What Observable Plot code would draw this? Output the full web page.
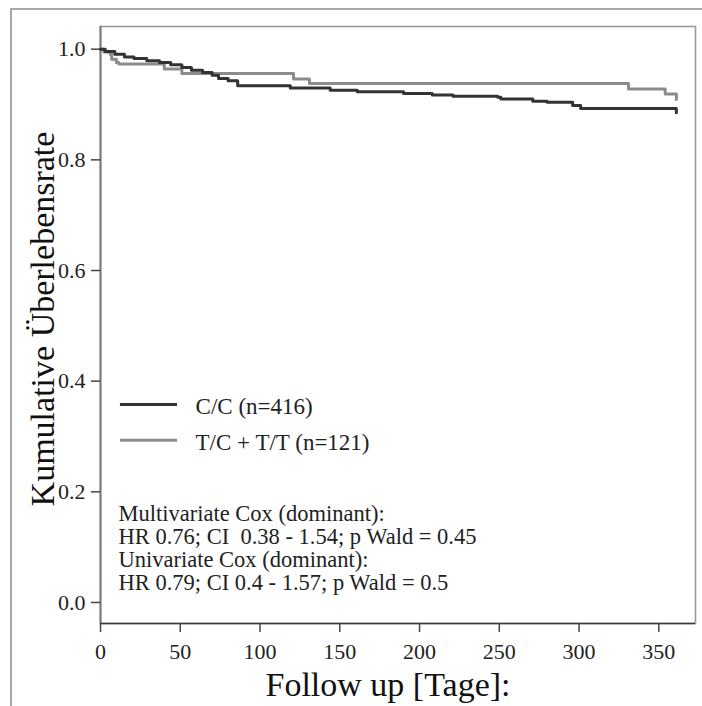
<!DOCTYPE html>
<html>
<head>
<meta charset="utf-8">
<script src="https://cdn.jsdelivr.net/npm/d3@7"></script>
<script src="https://cdn.jsdelivr.net/npm/@observablehq/plot@0.6"></script>
<style>
  html, body { margin: 0; padding: 0; background: #fff; }
  #wrap { position: relative; width: 702px; height: 706px; overflow: hidden; }
  #outer { position: absolute; left: 10px; top: 8px; width: 800px; height: 800px;
           border-left: 2px solid #a8a8a8; border-top: 2px solid #a8a8a8; pointer-events: none; }
  #chart { position: absolute; left: 0; top: 0; }
</style>
</head>
<body>
<div id="wrap"><div id="chart"></div><div id="outer"></div></div>
<script>
// ---- data ----
const groups = ["C/C (n=416)", "T/C + T/T (n=121)"];

const timeCC = [0, 3, 9, 15, 21, 29, 37, 44, 51, 57, 64, 70, 74, 80, 86, 119, 144, 161, 190, 208, 221, 249, 251, 271, 280, 296, 301, 361];
const survCC = [1.000, 0.996, 0.991, 0.986, 0.983, 0.979, 0.976, 0.972, 0.967, 0.962, 0.958, 0.953, 0.947, 0.943, 0.934, 0.930, 0.926, 0.923, 0.920, 0.917, 0.915, 0.913, 0.910, 0.906, 0.904, 0.898, 0.893, 0.885];

const timeTC = [0, 2, 6, 7, 10, 11.5, 40, 51, 121, 131, 331, 354, 361];
const survTC = [1.000, 0.995, 0.991, 0.982, 0.976, 0.973, 0.964, 0.956, 0.946, 0.938, 0.928, 0.919, 0.909];

const xTicks = [0, 50, 100, 150, 200, 250, 300, 350];
const yTicks = [0.0, 0.2, 0.4, 0.6, 0.8, 1.0];

const xTitle = "Follow up [Tage]:";
const yTitle = "Kumulative Überlebensrate";

const statsLines = [
  "Multivariate Cox (dominant):",
  "HR 0.76; CI\u00a0 0.38 - 1.54; p Wald = 0.45",
  "Univariate Cox (dominant):",
  "HR 0.79; CI 0.4 - 1.57; p Wald = 0.5"
];

// ---- layout / style options ----
const xDomain = [0, 373];
const yDomain = [-0.038, 1.041];
const colors = ["#333333", "#8c8c8c"];
const legendX = [12.5, 48.3];     // swatch extent (data units)
const legendTextX = 59.6;
const legendY = [0.358, 0.293];
const statsX = 11.3;
const statsY = [0.160, 0.1187, 0.0771, 0.0355];

const ccData = timeCC.map((t, i) => ({t, s: survCC[i]}));
const tcData = timeTC.map((t, i) => ({t, s: survTC[i]}));
const legendData = groups.map((g, i) => ({g, y: legendY[i], c: colors[i]}));
const statsData = statsLines.map((l, i) => ({l, y: statsY[i]}));

const font = "'Liberation Serif', 'Times New Roman', serif";

const chart = Plot.plot({
  width: 702,
  height: 706,
  marginLeft: 100,
  marginRight: 7,
  marginTop: 26,
  marginBottom: 83,
  style: {fontFamily: font, fontSize: "22px", color: "#222", background: "transparent"},
  x: {domain: xDomain, axis: null},
  y: {domain: yDomain, axis: null},
  marks: [
    Plot.frame({stroke: "#9a9a9a", strokeWidth: 1.6}),
    Plot.ruleX([xDomain[0]], {stroke: "#7a7a7a", strokeWidth: 2}),
    Plot.ruleY([yDomain[0]], {stroke: "#3a3a3a", strokeWidth: 1.6}),
    Plot.axisX({ticks: xTicks, tickSize: 9, tickPadding: 11, stroke: "#444", strokeWidth: 1.5, fill: "#222", fontSize: 22, label: null}),
    Plot.axisY({ticks: yTicks, tickSize: 9, tickPadding: 6, tickFormat: d3.format(".1f"), stroke: "#444", strokeWidth: 1.5, fill: "#222", fontSize: 22, label: null}),
    Plot.line(tcData, {x: "t", y: "s", curve: "step-after", stroke: colors[1], strokeWidth: 3}),
    Plot.line(ccData, {x: "t", y: "s", curve: "step-after", stroke: colors[0], strokeWidth: 3}),
    Plot.ruleY(legendData, {y: "y", x1: legendX[0], x2: legendX[1], stroke: "c", strokeWidth: 3}),
    Plot.text(legendData, {x: legendTextX, y: "y", text: "g", textAnchor: "start", fontSize: 23, fill: "#222", dy: 2}),
    Plot.text(statsData, {x: statsX, y: "y", text: "l", textAnchor: "start", fontSize: 22.5, fill: "#222"}),
    Plot.text([xTitle], {frameAnchor: "bottom", textAnchor: "middle", lineAnchor: "bottom", dy: 72, dx: -10, fontSize: 34, fill: "#111"}),
    Plot.text([yTitle], {frameAnchor: "left", textAnchor: "middle", lineAnchor: "middle", rotate: -90, dx: -57, dy: -6, fontSize: 34, fill: "#111"})
  ]
});
document.getElementById("chart").appendChild(chart);
</script>
</body>
</html>
